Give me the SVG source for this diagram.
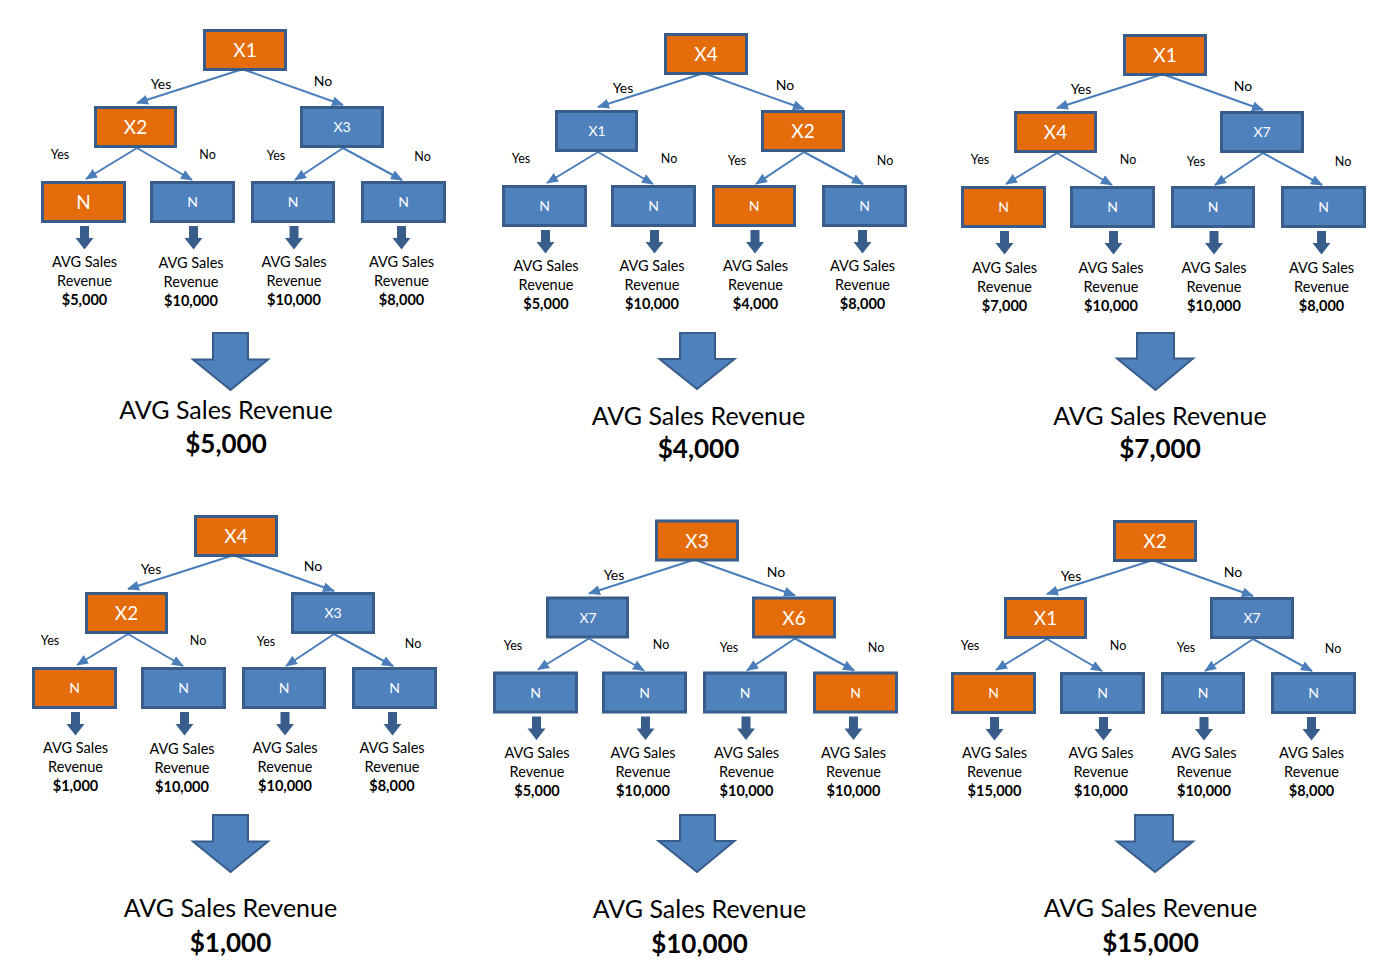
<svg xmlns="http://www.w3.org/2000/svg" width="1391" height="975" viewBox="0 0 1391 975">
<defs>
<style>
text{font-family:Lato,"Liberation Sans",sans-serif;text-anchor:middle}
.or{fill:#E46C0A;stroke:#385D8A;stroke-width:3}
.bl{fill:#4F81BD;stroke:#385D8A;stroke-width:3}
.tb{fill:#FFFFFF;font-size:19px}
.ts{fill:#FFFFFF;font-size:14px}
.con{stroke:#4A7EBB;stroke-width:2;fill:none;marker-end:url(#ah)}
.l1{fill:#000;font-size:14px}
.l2{fill:#000;font-size:12.5px}
.lt{fill:#000;font-size:14.5px}
.lv{fill:#000;font-size:14.5px;font-weight:bold}
.sa{fill:#385D8A}
.ba{fill:#4F81BD;stroke:#385D8A;stroke-width:2}
.bt{fill:#000;font-size:25px}
.bv{fill:#000;font-size:26px;font-weight:bold}
</style>
<marker id="ah" viewBox="0 0 12 10" refX="11" refY="5" markerWidth="12" markerHeight="10" markerUnits="userSpaceOnUse" orient="auto"><path d="M0,0 L12,5 L0,10 z" fill="#4A7EBB"/></marker>
</defs>

<!-- Tree 1 -->
<g id="tree1">
<g id="t1-connectors">
<path class="con" d="M240,70 L137,103"/><path class="con" d="M245,70 L343,105"/>
<path class="con" d="M137,148 L86,179"/><path class="con" d="M137,148 L192,180"/>
<path class="con" d="M343,148 L295,180"/><path class="con" d="M343,148 L402,180"/>
<text class="l1" x="161" y="88.5">Yes</text><text class="l1" x="323" y="85.5">No</text>
<text class="l2" x="60" y="159">Yes</text><text class="l2" x="207.5" y="158.5">No</text>
<text class="l2" x="276" y="160">Yes</text><text class="l2" x="422.5" y="161">No</text>
</g>
<g id="t1-root"><rect class="or" x="204.5" y="30.5" width="81" height="39"/><text class="tb" x="245" y="57">X1</text></g>
<g id="t1-left"><rect class="or" x="95.5" y="107.5" width="80" height="39"/><text class="tb" x="135.5" y="134">X2</text></g>
<g id="t1-right"><rect class="bl" x="301.5" y="107.5" width="81" height="39"/><text class="ts" x="342" y="132">X3</text></g>
<g id="t1-leaf1"><rect class="or" x="42.5" y="182.5" width="82" height="39"/><text class="tb" x="83.5" y="209">N</text>
<path class="sa" d="M80,226 H89 V238 H93.5 L84.5,249.5 L75.5,238 H80 Z"/>
<text class="lt" x="84.5" y="267">AVG Sales</text><text class="lt" x="84.5" y="286">Revenue</text><text class="lv" x="84.5" y="305">$5,000</text></g>
<g id="t1-leaf2"><rect class="bl" x="151.5" y="182.5" width="82" height="39"/><text class="ts" x="192.5" y="207">N</text>
<path class="sa" d="M189,226 H198 V238 H202.5 L193.5,249.5 L184.5,238 H189 Z"/>
<text class="lt" x="191" y="268">AVG Sales</text><text class="lt" x="191" y="287">Revenue</text><text class="lv" x="191" y="306">$10,000</text></g>
<g id="t1-leaf3"><rect class="bl" x="252.5" y="182.5" width="81" height="39"/><text class="ts" x="293" y="207">N</text>
<path class="sa" d="M289.5,226 H298.5 V238 H303 L294,249.5 L285,238 H289.5 Z"/>
<text class="lt" x="294" y="267">AVG Sales</text><text class="lt" x="294" y="286">Revenue</text><text class="lv" x="294" y="305">$10,000</text></g>
<g id="t1-leaf4"><rect class="bl" x="362.5" y="182.5" width="82" height="39"/><text class="ts" x="403.5" y="207">N</text>
<path class="sa" d="M397,226 H406 V238 H410.5 L401.5,249.5 L392.5,238 H397 Z"/>
<text class="lt" x="401.5" y="267">AVG Sales</text><text class="lt" x="401.5" y="286">Revenue</text><text class="lv" x="401.5" y="305">$8,000</text></g>
<g id="t1-result"><path class="ba" d="M213,333 H248 V359.5 H268 L230.5,390 L193,359.5 H213 Z"/>
<text class="bt" x="226" y="419">AVG Sales Revenue</text><text class="bv" x="226" y="453">$5,000</text></g>
</g>

<!-- Tree 2 -->
<g id="tree2" transform="translate(461,4)">
<g id="t2-connectors">
<path class="con" d="M240,70 L137,103"/><path class="con" d="M245,70 L343,105"/>
<path class="con" d="M137,148 L86,179"/><path class="con" d="M137,148 L192,180"/>
<path class="con" d="M343,148 L295,180"/><path class="con" d="M343,148 L402,180"/>
<text class="l1" x="162" y="89">Yes</text><text class="l1" x="324" y="86">No</text>
<text class="l2" x="60" y="159">Yes</text><text class="l2" x="208" y="158.5">No</text>
<text class="l2" x="276" y="161">Yes</text><text class="l2" x="424" y="161">No</text>
</g>
<g id="t2-root"><rect class="or" x="204.5" y="30.5" width="81" height="39"/><text class="tb" x="245" y="57">X4</text></g>
<g id="t2-left"><rect class="bl" x="95.5" y="107.5" width="80" height="39"/><text class="ts" x="136" y="132">X1</text></g>
<g id="t2-right"><rect class="or" x="301.5" y="107.5" width="81" height="39"/><text class="tb" x="342" y="134">X2</text></g>
<g id="t2-leaf1"><rect class="bl" x="42.5" y="182.5" width="82" height="39"/><text class="ts" x="83.5" y="207">N</text>
<path class="sa" d="M80,226 H89 V238 H93.5 L84.5,249.5 L75.5,238 H80 Z"/>
<text class="lt" x="85" y="267">AVG Sales</text><text class="lt" x="85" y="286">Revenue</text><text class="lv" x="85" y="305">$5,000</text></g>
<g id="t2-leaf2"><rect class="bl" x="151.5" y="182.5" width="82" height="39"/><text class="ts" x="192.5" y="207">N</text>
<path class="sa" d="M189,226 H198 V238 H202.5 L193.5,249.5 L184.5,238 H189 Z"/>
<text class="lt" x="191" y="267">AVG Sales</text><text class="lt" x="191" y="286">Revenue</text><text class="lv" x="191" y="305">$10,000</text></g>
<g id="t2-leaf3"><rect class="or" x="252.5" y="182.5" width="81" height="39"/><text class="ts" x="293" y="207">N</text>
<path class="sa" d="M289.5,226 H298.5 V238 H303 L294,249.5 L285,238 H289.5 Z"/>
<text class="lt" x="294.5" y="267">AVG Sales</text><text class="lt" x="294.5" y="286">Revenue</text><text class="lv" x="294.5" y="305">$4,000</text></g>
<g id="t2-leaf4"><rect class="bl" x="362.5" y="182.5" width="82" height="39"/><text class="ts" x="403.5" y="207">N</text>
<path class="sa" d="M397,226 H406 V238 H410.5 L401.5,249.5 L392.5,238 H397 Z"/>
<text class="lt" x="401.5" y="267">AVG Sales</text><text class="lt" x="401.5" y="286">Revenue</text><text class="lv" x="401.5" y="305">$8,000</text></g>
</g>
<g id="t2-result"><path class="ba" d="M680,333 H715 V359 H734.5 L697,389 L659.5,359 H680 Z"/>
<text class="bt" x="698.5" y="425">AVG Sales Revenue</text><text class="bv" x="698.5" y="458">$4,000</text></g>

<!-- Tree 3 -->
<g id="tree3" transform="translate(920,5)">
<g id="t3-connectors">
<path class="con" d="M240,70 L137,103"/><path class="con" d="M245,70 L343,105"/>
<path class="con" d="M137,148 L86,179"/><path class="con" d="M137,148 L192,180"/>
<path class="con" d="M343,148 L295,180"/><path class="con" d="M343,148 L402,180"/>
<text class="l1" x="161" y="89">Yes</text><text class="l1" x="323" y="86">No</text>
<text class="l2" x="60" y="159">Yes</text><text class="l2" x="208" y="159">No</text>
<text class="l2" x="276" y="161">Yes</text><text class="l2" x="423" y="161">No</text>
</g>
<g id="t3-root"><rect class="or" x="204.5" y="30.5" width="81" height="39"/><text class="tb" x="245" y="57">X1</text></g>
<g id="t3-left"><rect class="or" x="95.5" y="107.5" width="80" height="39"/><text class="tb" x="135.5" y="134">X4</text></g>
<g id="t3-right"><rect class="bl" x="301.5" y="107.5" width="81" height="39"/><text class="ts" x="342" y="132">X7</text></g>
<g id="t3-leaf1"><rect class="or" x="42.5" y="182.5" width="82" height="39"/><text class="ts" x="83.5" y="207">N</text>
<path class="sa" d="M80,226 H89 V238 H93.5 L84.5,249.5 L75.5,238 H80 Z"/>
<text class="lt" x="84.5" y="268">AVG Sales</text><text class="lt" x="84.5" y="287">Revenue</text><text class="lv" x="84.5" y="306">$7,000</text></g>
<g id="t3-leaf2"><rect class="bl" x="151.5" y="182.5" width="82" height="39"/><text class="ts" x="192.5" y="207">N</text>
<path class="sa" d="M189,226 H198 V238 H202.5 L193.5,249.5 L184.5,238 H189 Z"/>
<text class="lt" x="191" y="268">AVG Sales</text><text class="lt" x="191" y="287">Revenue</text><text class="lv" x="191" y="306">$10,000</text></g>
<g id="t3-leaf3"><rect class="bl" x="252.5" y="182.5" width="81" height="39"/><text class="ts" x="293" y="207">N</text>
<path class="sa" d="M289.5,226 H298.5 V238 H303 L294,249.5 L285,238 H289.5 Z"/>
<text class="lt" x="294" y="268">AVG Sales</text><text class="lt" x="294" y="287">Revenue</text><text class="lv" x="294" y="306">$10,000</text></g>
<g id="t3-leaf4"><rect class="bl" x="362.5" y="182.5" width="82" height="39"/><text class="ts" x="403.5" y="207">N</text>
<path class="sa" d="M397,226 H406 V238 H410.5 L401.5,249.5 L392.5,238 H397 Z"/>
<text class="lt" x="401.5" y="268">AVG Sales</text><text class="lt" x="401.5" y="287">Revenue</text><text class="lv" x="401.5" y="306">$8,000</text></g>
</g>
<g id="t3-result"><path class="ba" d="M1137,333 H1174 V358.5 H1193 L1155.5,390 L1117,358.5 H1137 Z"/>
<text class="bt" x="1160" y="425">AVG Sales Revenue</text><text class="bv" x="1160" y="458">$7,000</text></g>

<!-- Tree 4 -->
<g id="tree4" transform="translate(-9,486)">
<g id="t4-connectors">
<path class="con" d="M240,70 L137,103"/><path class="con" d="M245,70 L343,105"/>
<path class="con" d="M137,148 L86,179"/><path class="con" d="M137,148 L192,180"/>
<path class="con" d="M343,148 L295,180"/><path class="con" d="M343,148 L402,180"/>
<text class="l1" x="160" y="88">Yes</text><text class="l1" x="322" y="85">No</text>
<text class="l2" x="59" y="159">Yes</text><text class="l2" x="207" y="158.5">No</text>
<text class="l2" x="275" y="160">Yes</text><text class="l2" x="422" y="162">No</text>
</g>
<g id="t4-root"><rect class="or" x="204.5" y="30.5" width="81" height="39"/><text class="tb" x="245" y="57">X4</text></g>
<g id="t4-left"><rect class="or" x="95.5" y="107.5" width="80" height="39"/><text class="tb" x="135.5" y="134">X2</text></g>
<g id="t4-right"><rect class="bl" x="301.5" y="107.5" width="81" height="39"/><text class="ts" x="342" y="132">X3</text></g>
<g id="t4-leaf1"><rect class="or" x="42.5" y="182.5" width="82" height="39"/><text class="ts" x="83.5" y="207">N</text>
<path class="sa" d="M80,226 H89 V238 H93.5 L84.5,249.5 L75.5,238 H80 Z"/>
<text class="lt" x="84.5" y="267">AVG Sales</text><text class="lt" x="84.5" y="286">Revenue</text><text class="lv" x="84.5" y="305">$1,000</text></g>
<g id="t4-leaf2"><rect class="bl" x="151.5" y="182.5" width="82" height="39"/><text class="ts" x="192.5" y="207">N</text>
<path class="sa" d="M189,226 H198 V238 H202.5 L193.5,249.5 L184.5,238 H189 Z"/>
<text class="lt" x="191" y="268">AVG Sales</text><text class="lt" x="191" y="287">Revenue</text><text class="lv" x="191" y="306">$10,000</text></g>
<g id="t4-leaf3"><rect class="bl" x="252.5" y="182.5" width="81" height="39"/><text class="ts" x="293" y="207">N</text>
<path class="sa" d="M289.5,226 H298.5 V238 H303 L294,249.5 L285,238 H289.5 Z"/>
<text class="lt" x="294" y="267">AVG Sales</text><text class="lt" x="294" y="286">Revenue</text><text class="lv" x="294" y="305">$10,000</text></g>
<g id="t4-leaf4"><rect class="bl" x="362.5" y="182.5" width="82" height="39"/><text class="ts" x="403.5" y="207">N</text>
<path class="sa" d="M397,226 H406 V238 H410.5 L401.5,249.5 L392.5,238 H397 Z"/>
<text class="lt" x="401" y="267">AVG Sales</text><text class="lt" x="401" y="286">Revenue</text><text class="lv" x="401" y="305">$8,000</text></g>
</g>
<g id="t4-result"><path class="ba" d="M213,815 H248 V841.5 H268 L230.5,872 L193,841.5 H213 Z"/>
<text class="bt" x="230.5" y="917">AVG Sales Revenue</text><text class="bv" x="230.5" y="952">$1,000</text></g>

<!-- Tree 5 -->
<g id="tree5" transform="translate(452,490.5)">
<g id="t5-connectors">
<path class="con" d="M240,70 L137,103"/><path class="con" d="M245,70 L343,105"/>
<path class="con" d="M137,148 L86,179"/><path class="con" d="M137,148 L192,180"/>
<path class="con" d="M343,148 L295,180"/><path class="con" d="M343,148 L402,180"/>
<text class="l1" x="162" y="89">Yes</text><text class="l1" x="324" y="86">No</text>
<text class="l2" x="61" y="159">Yes</text><text class="l2" x="209" y="158.5">No</text>
<text class="l2" x="277" y="161">Yes</text><text class="l2" x="424" y="161">No</text>
</g>
<g id="t5-root"><rect class="or" x="204.5" y="30.5" width="81" height="39"/><text class="tb" x="245" y="57">X3</text></g>
<g id="t5-left"><rect class="bl" x="95.5" y="107.5" width="80" height="39"/><text class="ts" x="136" y="132">X7</text></g>
<g id="t5-right"><rect class="or" x="301.5" y="107.5" width="81" height="39"/><text class="tb" x="342" y="134">X6</text></g>
<g id="t5-leaf1"><rect class="bl" x="42.5" y="182.5" width="82" height="39"/><text class="ts" x="83.5" y="207">N</text>
<path class="sa" d="M80,226 H89 V238 H93.5 L84.5,249.5 L75.5,238 H80 Z"/>
<text class="lt" x="85" y="267">AVG Sales</text><text class="lt" x="85" y="286">Revenue</text><text class="lv" x="85" y="305">$5,000</text></g>
<g id="t5-leaf2"><rect class="bl" x="151.5" y="182.5" width="82" height="39"/><text class="ts" x="192.5" y="207">N</text>
<path class="sa" d="M189,226 H198 V238 H202.5 L193.5,249.5 L184.5,238 H189 Z"/>
<text class="lt" x="191" y="267">AVG Sales</text><text class="lt" x="191" y="286">Revenue</text><text class="lv" x="191" y="305">$10,000</text></g>
<g id="t5-leaf3"><rect class="bl" x="252.5" y="182.5" width="81" height="39"/><text class="ts" x="293" y="207">N</text>
<path class="sa" d="M289.5,226 H298.5 V238 H303 L294,249.5 L285,238 H289.5 Z"/>
<text class="lt" x="294.5" y="267">AVG Sales</text><text class="lt" x="294.5" y="286">Revenue</text><text class="lv" x="294.5" y="305">$10,000</text></g>
<g id="t5-leaf4"><rect class="or" x="362.5" y="182.5" width="82" height="39"/><text class="ts" x="403.5" y="207">N</text>
<path class="sa" d="M397,226 H406 V238 H410.5 L401.5,249.5 L392.5,238 H397 Z"/>
<text class="lt" x="401.5" y="267">AVG Sales</text><text class="lt" x="401.5" y="286">Revenue</text><text class="lv" x="401.5" y="305">$10,000</text></g>
</g>
<g id="t5-result"><path class="ba" d="M680,815 H715 V841 H734.5 L697,872 L658.5,841 H680 Z"/>
<text class="bt" x="699.5" y="918">AVG Sales Revenue</text><text class="bv" x="699.5" y="953">$10,000</text></g>

<!-- Tree 6 -->
<g id="tree6" transform="translate(910,491)">
<g id="t6-connectors">
<path class="con" d="M240,70 L137,103"/><path class="con" d="M245,70 L343,105"/>
<path class="con" d="M137,148 L86,179"/><path class="con" d="M137,148 L192,180"/>
<path class="con" d="M343,148 L295,180"/><path class="con" d="M343,148 L402,180"/>
<text class="l1" x="161" y="90">Yes</text><text class="l1" x="323" y="86">No</text>
<text class="l2" x="60" y="159">Yes</text><text class="l2" x="208" y="159">No</text>
<text class="l2" x="276" y="161">Yes</text><text class="l2" x="423" y="162">No</text>
</g>
<g id="t6-root"><rect class="or" x="204.5" y="30.5" width="81" height="39"/><text class="tb" x="245" y="57">X2</text></g>
<g id="t6-left"><rect class="or" x="95.5" y="107.5" width="80" height="39"/><text class="tb" x="135.5" y="134">X1</text></g>
<g id="t6-right"><rect class="bl" x="301.5" y="107.5" width="81" height="39"/><text class="ts" x="342" y="132">X7</text></g>
<g id="t6-leaf1"><rect class="or" x="42.5" y="182.5" width="82" height="39"/><text class="ts" x="83.5" y="207">N</text>
<path class="sa" d="M80,226 H89 V238 H93.5 L84.5,249.5 L75.5,238 H80 Z"/>
<text class="lt" x="84.5" y="267">AVG Sales</text><text class="lt" x="84.5" y="286">Revenue</text><text class="lv" x="84.5" y="305">$15,000</text></g>
<g id="t6-leaf2"><rect class="bl" x="151.5" y="182.5" width="82" height="39"/><text class="ts" x="192.5" y="207">N</text>
<path class="sa" d="M189,226 H198 V238 H202.5 L193.5,249.5 L184.5,238 H189 Z"/>
<text class="lt" x="191" y="267">AVG Sales</text><text class="lt" x="191" y="286">Revenue</text><text class="lv" x="191" y="305">$10,000</text></g>
<g id="t6-leaf3"><rect class="bl" x="252.5" y="182.5" width="81" height="39"/><text class="ts" x="293" y="207">N</text>
<path class="sa" d="M289.5,226 H298.5 V238 H303 L294,249.5 L285,238 H289.5 Z"/>
<text class="lt" x="294" y="267">AVG Sales</text><text class="lt" x="294" y="286">Revenue</text><text class="lv" x="294" y="305">$10,000</text></g>
<g id="t6-leaf4"><rect class="bl" x="362.5" y="182.5" width="82" height="39"/><text class="ts" x="403.5" y="207">N</text>
<path class="sa" d="M397,226 H406 V238 H410.5 L401.5,249.5 L392.5,238 H397 Z"/>
<text class="lt" x="401.5" y="267">AVG Sales</text><text class="lt" x="401.5" y="286">Revenue</text><text class="lv" x="401.5" y="305">$8,000</text></g>
</g>
<g id="t6-result"><path class="ba" d="M1135,815 H1173 V841.5 H1193 L1155,872 L1117,841.5 H1135 Z"/>
<text class="bt" x="1150.5" y="917">AVG Sales Revenue</text><text class="bv" x="1150.5" y="952">$15,000</text></g>
</svg>
